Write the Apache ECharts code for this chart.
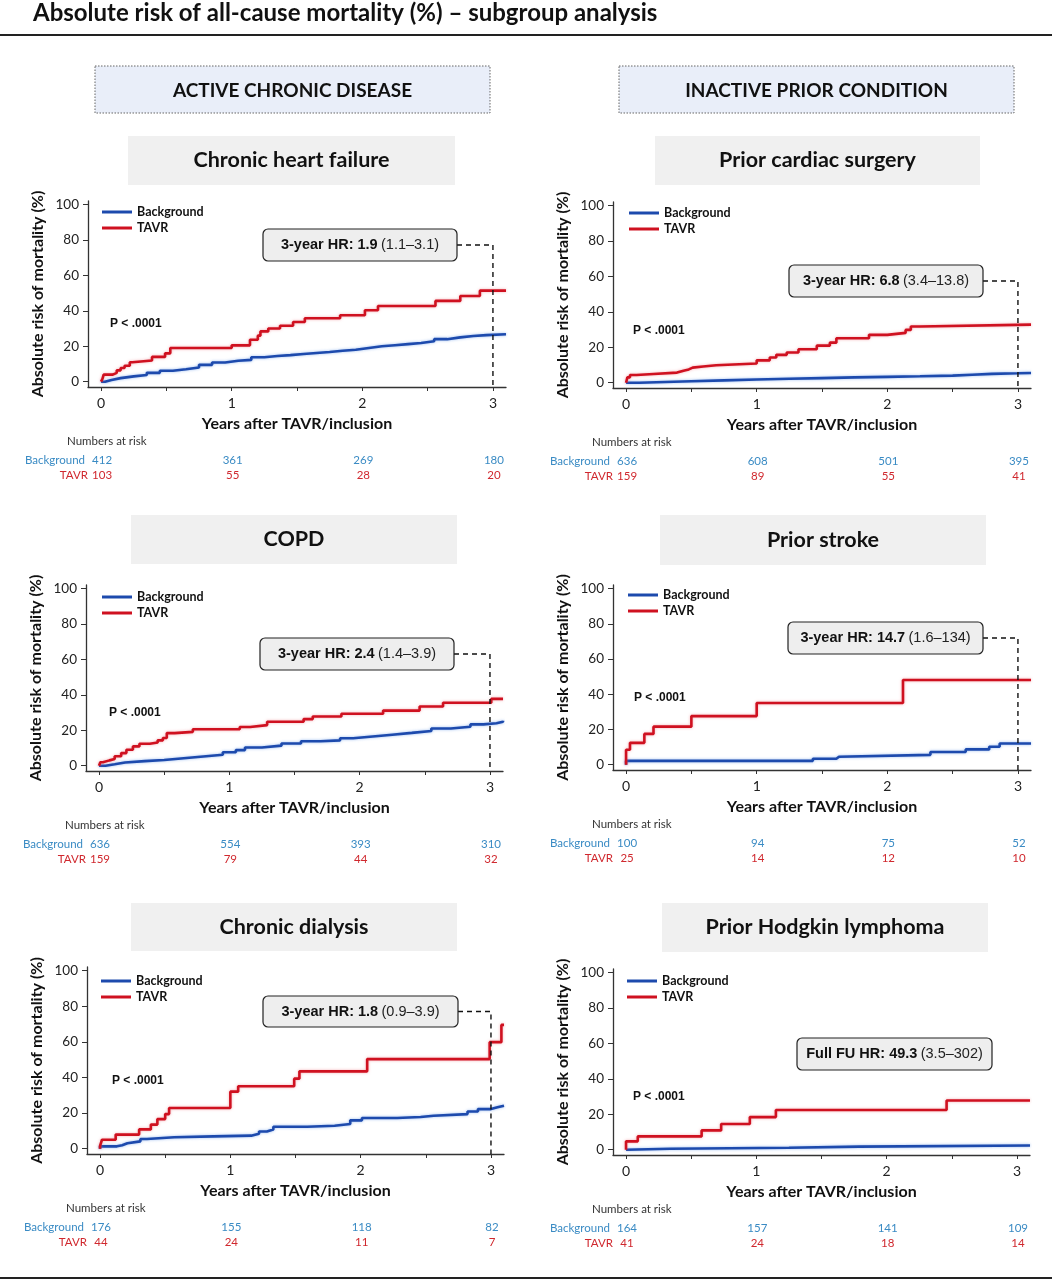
<!DOCTYPE html>
<html>
<head>
<meta charset="utf-8">
<script src="https://cdn.jsdelivr.net/npm/echarts@6.0.0/dist/echarts.min.js"></script>
<style>
  html, body { margin: 0; padding: 0; background: #fff; }
  #main { width: 1052px; height: 1283px; }
</style>
</head>
<body>
<div id="main"></div>
<script>
// ---- data ----
var pageTitle = 'Absolute risk of all-cause mortality (%) \u2013 subgroup analysis';
var groupTitles = ['ACTIVE CHRONIC DISEASE', 'INACTIVE PRIOR CONDITION'];
var panelTitles = ['Chronic heart failure', 'Prior cardiac surgery', 'COPD', 'Prior stroke', 'Chronic dialysis', 'Prior Hodgkin lymphoma'];
var yTicks = [0, 20, 40, 60, 80, 100];
var xTicks = [0, 1, 2, 3];
var xMinorTicks = [0, 0.5, 1, 1.5, 2, 2.5, 3];
var riskTimes = [0, 1, 2, 3];

var chfTavr = [[0,0],[0.01,1.5],[0.02,4],[0.09,5],[0.12,6.4],[0.15,7.7],[0.18,9],[0.22,11],[0.24,12],[0.39,14],[0.49,16],[0.53,19],[1.0,20.5],[1.14,23.7],[1.2,26],[1.22,28.4],[1.28,30],[1.37,31.6],[1.47,33.7],[1.56,35.8],[1.83,37.5],[2.02,40.3],[2.12,42.7],[2.56,45.6],[2.75,48.4],[2.9,51.4],[3.1,51.4]];
var chfBackground = [[0,0],[0.03,1],[0.08,2],[0.15,3],[0.25,3.8],[0.35,5],[0.45,6.2],[0.55,7],[0.65,8],[0.75,9.5],[0.85,10.8],[0.95,11.8],[1.05,12.3],[1.15,13.8],[1.25,14.5],[1.35,15],[1.45,15.6],[1.55,16.2],[1.65,16.8],[1.75,17.5],[1.85,18],[1.95,19],[2.05,20],[2.15,20.6],[2.25,21.2],[2.35,21.8],[2.45,22.8],[2.55,24],[2.65,25],[2.75,25.8],[2.85,26.3],[2.95,26.8],[3.1,27]];

var surgeryTavr = [[0,0],[0.01,3],[0.03,4.3],[0.08,4.9],[0.21,5.7],[0.39,6.8],[0.44,7.5],[0.48,8.5],[0.51,9.1],[0.59,9.8],[0.69,10.8],[1.0,12.6],[1.1,14.2],[1.15,15.7],[1.23,17],[1.32,18.9],[1.46,20.9],[1.56,22.6],[1.61,25.1],[1.86,27],[2.0,28.1],[2.14,29.8],[2.18,31.7],[2.25,32.8],[3.1,32.8]];
var surgeryBackground = [[0,0],[0.1,0.4],[0.3,0.8],[0.5,1.3],[0.75,1.8],[1.0,2.2],[1.25,2.6],[1.5,3.0],[1.75,3.3],[2.0,3.6],[2.25,4.0],[2.5,4.5],[2.65,5.0],[2.8,5.3],[3.0,5.5],[3.1,5.6]];

var copdTavr = [[0,0],[0.01,1.9],[0.03,3],[0.08,3.8],[0.12,5.3],[0.17,7.1],[0.21,9],[0.26,10.9],[0.31,12.4],[0.39,13.1],[0.45,14.3],[0.49,15.6],[0.52,18.4],[0.58,19.1],[0.72,20.6],[1.08,21.8],[1.16,22.9],[1.29,24.8],[1.57,26.3],[1.64,27.8],[1.86,29.3],[2.18,31.1],[2.46,33.4],[2.64,35.5],[3.01,37.7],[3.1,37.7]];
var copdBackground = [[0,0],[0.05,0.8],[0.12,1.8],[0.2,2.6],[0.35,3.2],[0.5,4.2],[0.65,5.2],[0.8,6.2],[0.95,7.6],[1.05,8.8],[1.12,10.3],[1.25,11.3],[1.4,12.5],[1.55,13.8],[1.7,14.3],[1.85,15.5],[1.95,16.5],[2.1,17.5],[2.25,18.5],[2.4,19.6],[2.55,21],[2.7,22],[2.85,23.3],[2.95,24],[3.05,24.8],[3.1,25.3]];

var strokeTavr = [[0,0],[0,8.5],[0.03,12.4],[0.14,17.5],[0.21,21.6],[0.5,27.6],[1.0,35],[2.12,48.1],[3.1,48.1]];
var strokeBackground = [[0,0],[0,2.2],[1.43,3.4],[1.61,4.5],[1.63,5.6],[2.33,7.2],[2.6,8.7],[2.78,10.2],[2.86,12],[3.1,12]];

var dialysisTavr = [[0,0],[0,1.5],[0.015,5],[0.12,7.9],[0.3,10.8],[0.39,13.5],[0.44,16.6],[0.5,19.4],[0.53,22.8],[1.0,32],[1.06,35],[1.49,39.3],[1.53,43.4],[2.05,50.3],[2.99,59.8],[3.08,69.5],[3.1,69.5]];
var dialysisBackground = [[0,0],[0,1.3],[0.13,1.9],[0.17,3],[0.21,4.1],[0.31,5.4],[0.36,6.4],[0.57,6.9],[0.87,7.3],[1.16,8.4],[1.22,9.6],[1.28,10.7],[1.33,12.3],[1.59,12.9],[1.8,13.8],[1.92,15.9],[2.01,17.2],[2.28,17.8],[2.46,18.5],[2.56,19.4],[2.82,20.9],[2.9,22.2],[3.0,23.2],[3.05,24.1],[3.1,24.1]];

var hodgkinTavr = [[0,0],[0,4.7],[0.09,7.5],[0.58,10.9],[0.73,14.5],[0.95,18.4],[1.15,22.4],[2.46,27.8],[3.1,27.8]];
var hodgkinBackground = [[0,0],[0,0.5],[0.34,1.1],[1.25,1.7],[1.79,2.4],[3.1,2.4]];

var riskBackground = [[412,361,269,180],[636,608,501,395],[636,554,393,310],[100,94,75,52],[176,155,118,82],[164,157,141,109]];
var riskTavr = [[103,55,28,20],[159,89,55,41],[159,79,44,32],[25,14,12,10],[44,24,11,7],[41,24,18,14]];

var hrPrefix = ['3-year HR:', '3-year HR:', '3-year HR:', '3-year HR:', '3-year HR:', 'Full FU HR:'];
var hrValue = ['1.9', '6.8', '2.4', '14.7', '1.8', '49.3'];
var hrCI = ['(1.1\u20133.1)', '(3.4\u201313.8)', '(1.4\u20133.9)', '(1.6\u2013134)', '(0.9\u20133.9)', '(3.5\u2013302)'];
var hrGuide = [true, true, true, true, true, false];
var hrTime = 3;
var pText = 'P < .0001';

var tavrData = [chfTavr, surgeryTavr, copdTavr, strokeTavr, dialysisTavr, hodgkinTavr];
var backgroundData = [chfBackground, surgeryBackground, copdBackground, strokeBackground, dialysisBackground, hodgkinBackground];

// ---- layout (pixels) ----
var layout = [
  { grid: {left: 88,  top: 201, width: 418, height: 186}, sub: [128, 136, 327, 49], legend: [102, 204], p: [110, 324], box: [263, 229, 194, 32] },
  { grid: {left: 613, top: 202, width: 418, height: 186}, sub: [655, 136, 325, 49], legend: [629, 205], p: [633, 331], box: [789, 265, 194, 32] },
  { grid: {left: 86,  top: 585, width: 417, height: 186}, sub: [131, 515, 326, 49], legend: [102, 589], p: [109, 713], box: [260, 638, 194, 32] },
  { grid: {left: 613, top: 585, width: 418, height: 185}, sub: [660, 515, 326, 50], legend: [628, 587], p: [634, 698], box: [788, 622, 195, 32] },
  { grid: {left: 87,  top: 967, width: 417, height: 187}, sub: [131, 903, 326, 48], legend: [101, 973], p: [112, 1081], box: [263, 996, 195, 31] },
  { grid: {left: 613, top: 969, width: 417, height: 186}, sub: [662, 903, 326, 49], legend: [627, 973], p: [633, 1097], box: [797, 1038, 195, 32] }
];
var groupBoxes = [[95, 66, 395, 47], [619, 66, 395, 47]];

var calibri = 'Lato, "Open Sans", sans-serif';
var arial = '"Liberation Sans", Arial, sans-serif';
var blue = '#1d4aad';
var red = '#cf1120';
var riskBlue = '#3a8bc4';
var riskRed = '#d0282e';

var chart = echarts.init(document.getElementById('main'));

var option = {
  animation: false,
  backgroundColor: '#fff',
  grid: layout.map(function (l) { return l.grid; }),
  legend: layout.map(function (l) {
    return {
      left: l.legend[0], top: l.legend[1], orient: 'vertical', padding: 0,
      itemWidth: 30, itemHeight: 3, itemGap: 0, icon: 'rect', selectedMode: false,
      textStyle: { fontFamily: calibri, fontWeight: 'bold', fontSize: 12.5, lineHeight: 16, color: '#111' },
      data: ['Background', 'TAVR']
    };
  }),
  xAxis: layout.map(function (l, i) {
    return {
      type: 'value', gridIndex: i, min: -0.1, max: 3.1,
      name: 'Years after TAVR/inclusion', nameLocation: 'middle', nameGap: 29,
      nameTextStyle: { fontFamily: calibri, fontWeight: 'bold', fontSize: 16, color: '#111' },
      axisLine: { onZero: false, lineStyle: { color: '#333', width: 1.3 } },
      axisTick: { customValues: xMinorTicks, length: 4, lineStyle: { color: '#333' } },
      axisLabel: { customValues: xTicks, fontFamily: calibri, fontSize: 14, color: '#222', margin: 9 },
      splitLine: { show: false }
    };
  }),
  yAxis: layout.map(function (l, i) {
    return {
      type: 'value', gridIndex: i, min: -3, max: 102,
      name: 'Absolute risk of mortality (%)', nameLocation: 'middle', nameGap: 42,
      nameTextStyle: { fontFamily: calibri, fontWeight: 'bold', fontSize: 16, color: '#111' },
      axisLine: { show: true, onZero: false, lineStyle: { color: '#333', width: 1.3 } },
      axisTick: { show: true, customValues: yTicks, length: 5, lineStyle: { color: '#333' } },
      axisLabel: { customValues: yTicks, fontFamily: calibri, fontSize: 13.5, color: '#222', margin: 9 },
      splitLine: { show: false }
    };
  }),
  series: []
};

layout.forEach(function (l, i) {
  option.series.push({
    name: 'Background', type: 'line', xAxisIndex: i, yAxisIndex: i, step: 'end',
    data: backgroundData[i], symbol: 'none', showSymbol: false, z: 2,
    itemStyle: { color: blue },
    lineStyle: { color: blue, width: 2.6, shadowColor: 'rgba(90,145,230,0.6)', shadowBlur: 3 }
  });
  option.series.push({
    name: 'TAVR', type: 'line', xAxisIndex: i, yAxisIndex: i, step: 'end',
    data: tavrData[i], symbol: 'none', showSymbol: false, z: 3,
    itemStyle: { color: red },
    lineStyle: { color: red, width: 2.6, shadowColor: 'rgba(235,110,120,0.55)', shadowBlur: 3 }
  });
});

chart.setOption(option);

// ---- annotations that need pixel positions from the axes ----
var graphics = [];
graphics.push({ type: 'text', x: 33, y: 13, style: { text: pageTitle, fontFamily: calibri, fontWeight: 'bold', fontSize: 24, fill: '#111', verticalAlign: 'middle' } });
graphics.push({ type: 'line', shape: { x1: 0, y1: 35, x2: 1052, y2: 35 }, style: { stroke: '#222', lineWidth: 2 } });
graphics.push({ type: 'line', shape: { x1: 0, y1: 1278, x2: 1052, y2: 1278 }, style: { stroke: '#222', lineWidth: 2 } });

groupBoxes.forEach(function (b, k) {
  graphics.push({ type: 'rect', shape: { x: b[0], y: b[1], width: b[2], height: b[3] },
    style: { fill: '#e9eef9', stroke: '#666', lineWidth: 1, lineDash: [1.5, 1.5] } });
  graphics.push({ type: 'text', x: b[0] + b[2] / 2, y: b[1] + b[3] / 2 + 1,
    style: { text: groupTitles[k], fontFamily: calibri, fontWeight: 'bold', fontSize: 19, fill: '#111', align: 'center', verticalAlign: 'middle' } });
});

layout.forEach(function (l, i) {
  var s = l.sub, b = l.box, g = l.grid;
  graphics.push({ type: 'rect', shape: { x: s[0], y: s[1], width: s[2], height: s[3] }, style: { fill: '#f0f0f0' } });
  graphics.push({ type: 'text', x: s[0] + s[2] / 2, y: s[1] + s[3] / 2,
    style: { text: panelTitles[i], fontFamily: calibri, fontWeight: 'bold', fontSize: 21.5, fill: '#111', align: 'center', verticalAlign: 'middle' } });

  graphics.push({ type: 'text', x: l.p[0], y: l.p[1],
    style: { text: pText, fontFamily: arial, fontWeight: 'bold', fontSize: 12, fill: '#111', verticalAlign: 'middle' } });

  graphics.push({ type: 'rect', z: 10, shape: { x: b[0], y: b[1], width: b[2], height: b[3], r: 5 },
    style: { fill: '#eeeeee', stroke: '#222', lineWidth: 1.2 } });
  graphics.push({ type: 'text', z: 11, x: b[0] + b[2] / 2, y: b[1] + b[3] / 2,
    style: {
      text: '{b|' + hrPrefix[i] + ' ' + hrValue[i] + '} {n|' + hrCI[i] + '}',
      align: 'center', verticalAlign: 'middle',
      rich: {
        b: { fontFamily: arial, fontWeight: 'bold', fontSize: 14.5, fill: '#111' },
        n: { fontFamily: arial, fontSize: 14.5, fill: '#222' }
      }
    } });

  if (hrGuide[i]) {
    var start = chart.convertFromPixel({ gridIndex: i }, [b[0] + b[2], b[1] + b[3] / 2]);
    option.series.push({
      type: 'line', xAxisIndex: i, yAxisIndex: i, silent: true, symbol: 'none', z: 4,
      data: [[start[0], start[1]], [hrTime, start[1]], [hrTime, -3]],
      lineStyle: { color: '#111', width: 1.4, type: [5, 4] }
    });
  }

  var bottom = g.top + g.height;
  graphics.push({ type: 'text', x: g.left - 21, y: bottom + 54,
    style: { text: 'Numbers at risk', fontFamily: calibri, fontSize: 11.5, fill: '#333', verticalAlign: 'middle' } });
  graphics.push({ type: 'text', x: g.left - 3, y: bottom + 73,
    style: { text: 'Background', fontFamily: calibri, fontSize: 11.5, fill: riskBlue, align: 'right', verticalAlign: 'middle' } });
  graphics.push({ type: 'text', x: g.left, y: bottom + 88,
    style: { text: 'TAVR', fontFamily: calibri, fontSize: 11.5, fill: riskRed, align: 'right', verticalAlign: 'middle' } });
  riskTimes.forEach(function (t, k) {
    var px = chart.convertToPixel({ gridIndex: i }, [t, 0])[0];
    graphics.push({ type: 'text', x: px + 1, y: bottom + 73,
      style: { text: String(riskBackground[i][k]), fontFamily: calibri, fontSize: 11.5, fill: riskBlue, align: 'center', verticalAlign: 'middle' } });
    graphics.push({ type: 'text', x: px + 1, y: bottom + 88,
      style: { text: String(riskTavr[i][k]), fontFamily: calibri, fontSize: 11.5, fill: riskRed, align: 'center', verticalAlign: 'middle' } });
  });
});

option.graphic = graphics;
chart.setOption(option, true);
</script>
</body>
</html>
